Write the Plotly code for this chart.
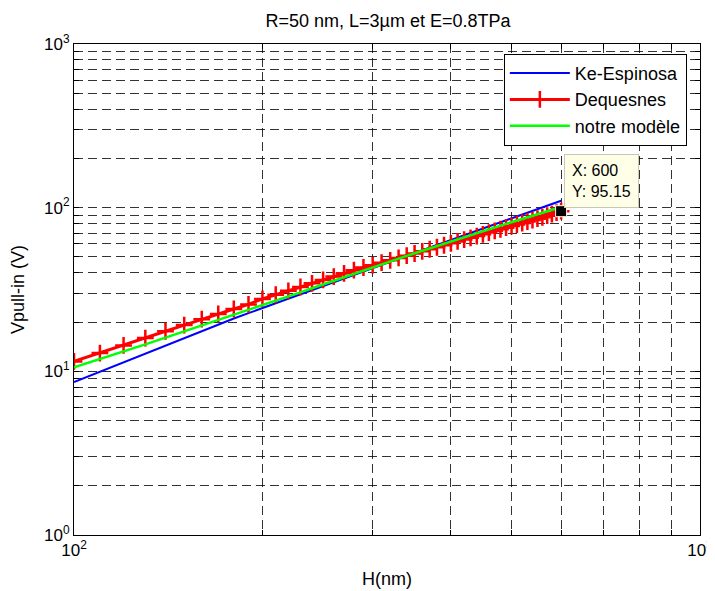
import plotly.graph_objects as go

# H (nm)
H = [100, 110, 120, 130, 140, 150, 160, 170, 180, 190,
     200, 210, 220, 230, 240, 250, 260, 270, 280, 290,
     300, 310, 320, 330, 340, 350, 360, 370, 380, 390,
     400, 410, 420, 430, 440, 450, 460, 470, 480, 490,
     500, 510, 520, 530, 540, 550, 560, 570, 580, 590, 600]

ke_espinosa = [8.61, 9.95, 11.36, 12.83, 14.36, 15.95, 17.59, 19.4, 21.02, 22.67,
               24.36, 26.08, 27.83, 29.62, 31.44, 33.29, 35.17, 37.07, 39.01, 40.97,
               42.97, 44.93, 46.91, 48.92, 50.95, 52.99, 55.06, 57.15, 59.26, 61.4,
               63.55, 65.72, 67.9, 70.11, 72.34, 74.59, 76.85, 79.13, 81.43, 83.74,
               86.07, 88.42, 90.78, 93.18, 95.57, 97.98, 100.43, 102.87, 105.32, 107.8, 110.3]

dequesnes = [11.5, 12.93, 14.39, 15.96, 17.57, 19.17, 20.84, 22.44, 24.05, 25.65,
             27.7, 29.37, 31.06, 32.76, 34.47, 36.2, 37.95, 39.7, 41.48, 43.1,
             44.5, 46.09, 47.68, 49.28, 50.88, 52.48, 54.09, 55.7, 57.31, 58.92,
             60.54, 62.16, 63.79, 65.41, 67.07, 68.76, 70.44, 72.12, 73.81, 75.5,
             77.2, 78.9, 80.6, 82.3, 84.0, 85.7, 87.4, 89.4, 91.3, 93.2, 95.15]

notre_modele = [10.58, 11.86, 13.22, 14.61, 16.06, 17.53, 19.04, 20.54, 22.08, 23.63,
                25.2, 26.9, 28.63, 30.39, 32.17, 33.98, 35.82, 37.67, 39.56, 41.46,
                43.39, 45.22, 47.07, 48.93, 50.8, 52.7, 54.59, 56.51, 58.45, 60.39,
                62.35, 64.32, 66.3, 68.3, 70.16, 72.03, 73.91, 75.79, 77.68, 79.58,
                81.48, 83.39, 85.31, 87.23, 89.16, 91.09, 93.02, 94.98, 96.93, 98.89, 100.85]

series_names = ["Ke-Espinosa", "Dequesnes", "notre modèle"]

x_tickvals = [100, 200, 300, 400, 500, 600, 700, 800, 900, 1000]
x_ticktext = ["10<sup>2</sup>", "", "", "", "", "", "", "", "", "10<sup>3</sup>"]
y_tickvals = [1, 2, 3, 4, 5, 6, 7, 8, 9,
              10, 20, 30, 40, 50, 60, 70, 80, 90,
              100, 200, 300, 400, 500, 600, 700, 800, 900, 1000]
y_ticktext = ["10<sup>0</sup>"] + [""] * 8 + ["10<sup>1</sup>"] + [""] * 8 + \
             ["10<sup>2</sup>"] + [""] * 8 + ["10<sup>3</sup>"]

tip_x = H[-1]
tip_y = dequesnes[-1]

FONT = "Liberation Sans, Arial, sans-serif"

fig = go.Figure()
fig.add_trace(go.Scatter(x=H, y=ke_espinosa, mode="lines", name=series_names[0],
                         line=dict(color="#0000ff", width=2)))
fig.add_trace(go.Scatter(x=H, y=dequesnes, mode="lines+markers", name=series_names[1],
                         line=dict(color="#ff0000", width=3),
                         marker=dict(symbol="cross-thin", size=12,
                                     line=dict(width=2.5, color="#ff0000"))))
fig.add_trace(go.Scatter(x=H, y=notre_modele, mode="lines", name=series_names[2],
                         line=dict(color="#00ff00", width=2.5)))
fig.add_trace(go.Scatter(x=[tip_x], y=[tip_y], mode="markers", showlegend=False,
                         marker=dict(symbol="square", size=11, color="black",
                                     line=dict(width=1, color="#fffff0"))))

grid = dict(showgrid=True, gridcolor="rgba(0,0,0,0.8)", gridwidth=1, griddash="9px,5px",
            showline=True, linecolor="black", linewidth=1, mirror="ticks",
            ticks="inside", ticklen=5, tickcolor="black", zeroline=False,
            tickfont=dict(family=FONT, size=17, color="black"))

fig.update_xaxes(type="log", range=[2, 3], tickmode="array", tickvals=x_tickvals,
                 ticktext=x_ticktext, automargin=False,
                 title=dict(text="H(nm)", font=dict(family=FONT, size=18, color="black"),
                            standoff=12), **grid)
fig.update_yaxes(type="log", range=[0, 3], tickmode="array", tickvals=y_tickvals,
                 ticktext=y_ticktext, automargin=False,
                 title=dict(text="Vpull-in (V)", font=dict(family=FONT, size=18, color="black"),
                            standoff=18), **grid)

fig.add_annotation(x=2.778151, y=1.978409, xref="x", yref="y",
                   text="X: 600<br>Y: 95.15", showarrow=False, align="left",
                   xanchor="left", yanchor="bottom", xshift=3, yshift=3,
                   font=dict(family=FONT, size=16, color="black"),
                   bgcolor="#ffffe8", bordercolor="#c8c8b4", borderwidth=1, borderpad=7)

fig.update_layout(
    width=707, height=583,
    margin=dict(l=66, r=15, t=36, b=56),
    paper_bgcolor="white", plot_bgcolor="white",
    title=dict(text="R=50 nm, L=3µm et E=0.8TPa", x=0.5375, xanchor="center",
               y=0.979, yanchor="middle",
               font=dict(family=FONT, size=18, color="black")),
    legend=dict(x=0.979, y=0.98, xanchor="right", yanchor="top",
                bgcolor="white", bordercolor="black", borderwidth=1,
                font=dict(family=FONT, size=18, color="black"),
                itemwidth=60, tracegroupgap=0),
    showlegend=True,
)

fig.write_html("out.html")
